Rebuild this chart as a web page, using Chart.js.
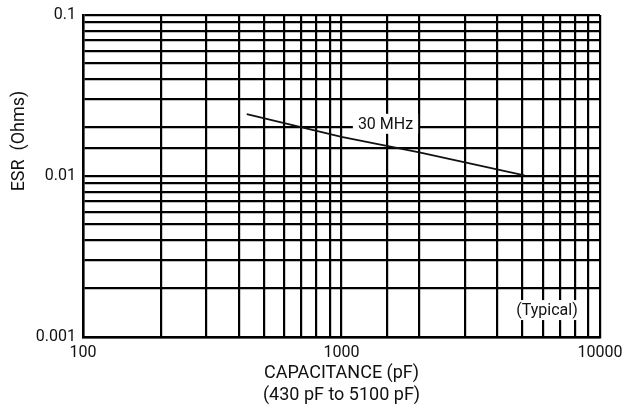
<!DOCTYPE html>
<html>
<head>
<meta charset="utf-8">
<script src="https://cdn.jsdelivr.net/npm/chart.js@4"></script>
<style>
html,body{margin:0;padding:0;background:#fff;}
#wrap{width:625px;height:408px;position:relative;}
</style>
</head>
<body>
<div id="wrap"><canvas id="c"></canvas></div>
<script>
const capacitance = [430, 1000, 2000, 5100];
const esr30MHz = [0.0242, 0.0175, 0.0140, 0.0101];
const xTickLabels = [100, 1000, 10000];
const yTickLabels = [0.001, 0.01, 0.1];
const seriesLabel = '30 MHz';
const xTitle = ['CAPACITANCE (pF)', '(430 pF to 5100 pF)'];
const yTitle = 'ESR  (Ohms)';
const noteText = '(Typical)';
const seriesLabelPos = {x: 1480, y: 0.0211};
const notePos = {x: 6240, y: 0.00147};

const FONT = 'Roboto, "Liberation Sans", sans-serif';

const annot = {
  id: 'annot',
  afterDatasetsDraw(chart) {
    const ctx = chart.ctx;
    const xs = chart.scales.x, ys = chart.scales.y;
    ctx.save();
    ctx.font = '16px ' + FONT;
    ctx.textAlign = 'center';
    ctx.textBaseline = 'middle';
    function boxText(t, px, py) {
      const w = ctx.measureText(t).width;
      ctx.fillStyle = '#fff';
      ctx.fillRect(px - w / 2 - 5, py - 10, w + 10, 20);
      ctx.fillStyle = '#111';
      ctx.fillText(t, px, py + 1);
    }
    boxText(seriesLabel, xs.getPixelForValue(seriesLabelPos.x), ys.getPixelForValue(seriesLabelPos.y));
    boxText(noteText, xs.getPixelForValue(notePos.x), ys.getPixelForValue(notePos.y));
    ctx.restore();
  },
  afterDraw(chart) {
    const ctx = chart.ctx;
    const a = chart.chartArea;
    ctx.save();
    ctx.fillStyle = '#111';
    ctx.font = '18px ' + FONT;
    ctx.textAlign = 'center';
    ctx.textBaseline = 'middle';
    const cx = (a.left + a.right) / 2;
    ctx.fillText(xTitle[0], cx, 373);
    ctx.fillText(xTitle[1], cx, 395);
    ctx.translate(19, 141);
    ctx.rotate(-Math.PI / 2);
    ctx.fillText(yTitle, 0, 0);
    ctx.restore();
  }
};

new Chart(document.getElementById('c'), {
  type: 'line',
  data: {
    datasets: [{
      label: seriesLabel,
      data: capacitance.map((c, i) => ({x: c, y: esr30MHz[i]})),
      borderColor: '#111',
      borderWidth: 1.8,
      pointRadius: 0,
      fill: false,
      tension: 0
    }]
  },
  options: {
    responsive: true,
    maintainAspectRatio: false,
    animation: false,
    devicePixelRatio: 1,
    layout: {padding: {left: 0, right: 25, top: 15, bottom: 0}},
    plugins: {legend: {display: false}, tooltip: {enabled: false}, title: {display: false}},
    scales: {
      x: {
        type: 'logarithmic',
        min: 100, max: 10000,
        afterFit(s) { s.height = 71; s.paddingRight = 0; s.paddingLeft = 0; },
        border: {display: true, color: '#000', width: 2.5},
        grid: {color: '#000', lineWidth: 2.2, drawTicks: false},
        ticks: {
          autoSkip: false, maxRotation: 0, padding: 6,
          color: '#111', font: {family: FONT, size: 16},
          callback: (v) => xTickLabels.includes(v) ? String(v) : ''
        }
      },
      y: {
        type: 'logarithmic',
        min: 0.001, max: 0.1,
        afterFit(s) { s.width = 83; s.paddingTop = 0; s.paddingBottom = 0; },
        border: {display: true, color: '#000', width: 2.5},
        grid: {color: '#000', lineWidth: 2.2, drawTicks: false},
        ticks: {
          autoSkip: false, padding: 7,
          color: '#111', font: {family: FONT, size: 16},
          callback: (v) => {
            const m = yTickLabels.find(t => Math.abs(t - v) / t < 1e-6);
            return m !== undefined ? String(m) : '';
          }
        }
      }
    }
  },
  plugins: [annot]
});
</script>
</body>
</html>
